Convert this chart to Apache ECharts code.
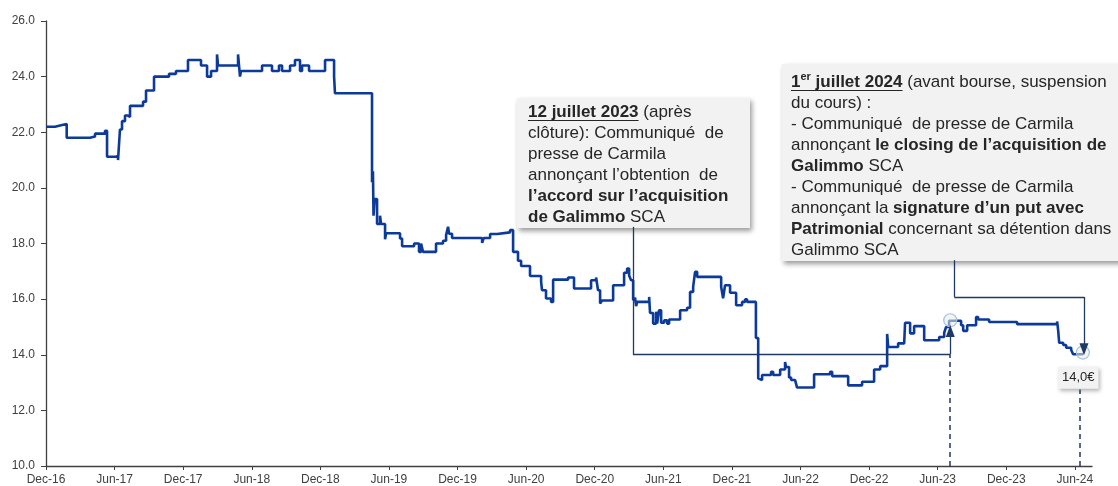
<!DOCTYPE html>
<html>
<head>
<meta charset="utf-8">
<script src="https://cdn.jsdelivr.net/npm/echarts@6.0.0/dist/echarts.min.js"></script>
<style>
  html, body { margin: 0; padding: 0; background: #fff; }
  #chart { width: 1118px; height: 486px; }
</style>
</head>
<body>
<div id="chart"></div>
<script>
// x = months since Dec-16, y = share price (EUR); each point = date of a step change
const months = [
  0, 0.79, 1.31, 1.81, 3.85, 4.29, 5.16, 5.34, 6.1, 6.3, 6.47, 6.65, 6.91, 7.17, 7.35,
  8.49, 8.75, 9.45, 10.76, 11.37, 12.42, 13.56, 14.09, 14.44, 14.96, 15.05, 16.8, 16.97,
  17.06, 18.9, 19.77, 20.38, 20.65, 21.35, 21.78, 22.22, 22.4, 23.01, 24.41, 25.2, 25.28,
  28.52, 28.6, 28.65, 28.75, 28.96, 29.22, 29.31, 29.66, 29.75, 30.97, 31.15, 32.2, 32.63,
  32.81, 32.98, 34.12, 34.73, 35.0, 35.17, 35.26, 35.52, 38.15, 38.3, 38.85, 39.46, 40.59,
  40.86, 41.29, 41.56, 42.34, 43.31, 43.39, 43.74, 44.18, 44.36, 45.67, 46.19, 47.68, 48.12,
  48.29, 48.47, 48.64, 49.61, 50.57, 50.83, 51.01, 51.18, 51.36, 51.53, 51.62, 51.71, 52.76,
  52.84, 53.11, 53.37, 53.46, 53.63, 53.81, 54.07, 54.33, 54.51, 55.47, 56.08, 56.34, 56.61,
  56.78, 56.96, 59.06, 59.23, 59.4, 59.84, 60.37, 60.89, 61.15, 61.33, 62.1, 62.3, 62.47,
  62.64, 63.43, 63.61, 64.22, 64.65, 64.74, 65.0, 65.18, 65.53, 65.7, 67.19, 68.59, 68.77,
  70.17, 71.39, 72.44, 72.97, 73.58, 73.67, 74.54, 75.07, 75.15, 75.59, 75.94, 76.82, 78.13,
  78.57, 78.74, 79.0, 80.05, 80.23, 80.58, 81.36, 81.54, 82.5, 84.95, 85.74, 85.83, 88.45,
  88.54, 88.63, 88.98, 89.24, 89.68, 89.85, 90.73
];
const prices = [
  22.2, 22.25, 22.3, 21.8, 21.85, 21.95, 22.05, 21.12, 21.15, 21.0, 22.1, 22.4, 22.6, 22.55, 22.95,
  23.1, 23.5, 24.0, 24.1, 24.2, 24.6, 24.4, 24.0, 24.2, 24.8, 24.4, 24.8, 24.0,
  24.2, 24.4, 24.2, 24.4, 24.2, 24.4, 24.6, 24.2, 24.4, 24.2, 24.6, 24.0, 23.4,
  20.2, 20.6, 19.0, 19.6, 18.7, 19.0, 18.7, 18.15, 18.37, 18.18, 17.9, 18.0, 17.7,
  18.0, 17.7, 18.0, 18.1, 18.3, 18.6, 18.35, 18.2, 18.02, 18.2, 18.34, 18.4, 18.48,
  17.7, 17.38, 17.19, 16.83, 16.62, 16.32, 16.02, 15.9, 16.7, 16.78, 16.38, 16.68, 16.78,
  16.32, 15.84, 15.95, 16.5, 16.95, 17.1, 16.85, 16.68, 15.96, 16.05, 15.75, 15.9, 16.08,
  15.5, 15.12, 15.55, 15.12, 15.6, 15.15, 15.24, 15.12, 15.27, 15.6, 15.69, 16.26, 16.44,
  16.98, 16.8, 16.44, 16.03, 16.5, 16.23, 15.78, 15.9, 15.99, 15.9, 14.6, 13.15, 13.09,
  13.27, 13.39, 13.27, 13.47, 13.74, 13.56, 13.18, 13.09, 13.03, 12.82, 13.3, 13.39, 13.23,
  12.9, 13.03, 13.47, 13.59, 14.75, 14.28, 14.41, 14.46, 15.15, 14.77, 15.03, 14.52, 14.64,
  14.79, 15.0, 15.22, 15.06, 14.86, 15.06, 15.36, 15.27, 15.18, 15.1, 15.15, 15.1, 15.2,
  14.88, 14.43, 14.35, 14.25, 14.17, 14.02, 14.0
];
const tickMonths = [0, 6, 12, 18, 24, 30, 36, 42, 48, 54, 60, 66, 72, 78, 84, 90];
const tickLabels = ['Dec-16', 'Jun-17', 'Dec-17', 'Jun-18', 'Dec-18', 'Jun-19', 'Dec-19', 'Jun-20',
  'Dec-20', 'Jun-21', 'Dec-21', 'Jun-22', 'Dec-22', 'Jun-23', 'Dec-23', 'Jun-24'];

// annotation anchors (months / price)
const accordMonth = 79.1;     // 12 juillet 2023
const closingMonth = 90.8;    // 1er juillet 2024
const closingDash = 90.4;

const lastMonth = months[months.length - 1];
const lastPrice = prices[prices.length - 1];

const navy = '#1f3864';
const fam = '"Liberation Sans", Arial, sans-serif';
const textCol = '#262626';

const ctx = document.createElement('canvas').getContext('2d');
function tw(str, font) { ctx.font = font; return ctx.measureText(str).width; }

const rich = {
  b: { fontSize: 17, fontFamily: fam, fontWeight: 'bold', fill: textCol, lineHeight: 21 },
  u: { fontSize: 17, fontFamily: fam, fontWeight: 'bold', fill: textCol, lineHeight: 21 },
  sup: { fontSize: 11, fontFamily: fam, fontWeight: 'bold', fill: textCol, lineHeight: 13, verticalAlign: 'top' }
};

const box1Text = '{u|12 juillet 2023} (après\nclôture): Communiqué  de\npresse de Carmila\nannonçant l\u2019obtention  de\n{b|l\u2019accord sur l\u2019acquisition}\n{b|de Galimmo} SCA';
const box2Text = '{u|1}{sup|er}{u| juillet 2024} (avant bourse, suspension\ndu cours) :\n- Communiqué  de presse de Carmila\nannonçant {b|le closing de l\u2019acquisition de}\n{b|Galimmo} SCA\n- Communiqué  de presse de Carmila\nannonçant la {b|signature d\u2019un put avec}\n{b|Patrimonial} concernant sa détention dans\nGalimmo SCA';

const u1 = tw('12 juillet 2023', 'bold 17px ' + fam);
const u2 = tw('1', 'bold 17px ' + fam) + tw('er', 'bold 11px ' + fam) + tw(' juillet 2024', 'bold 17px ' + fam);

const boxShadow = { shadowBlur: 5, shadowOffsetX: 2, shadowOffsetY: 3, shadowColor: 'rgba(0,0,0,0.4)' };

function box(x, y, w, h, tx, ty, text, ul) {
  return {
    type: 'group', z: 100, silent: true,
    children: [
      { type: 'rect', shape: { x: x, y: y, width: w, height: h },
        style: Object.assign({ fill: '#f2f2f2' }, boxShadow) },
      { type: 'text', style: { x: tx, y: ty, text: text, fontSize: 17, fontFamily: fam, fill: textCol,
          lineHeight: 21, verticalAlign: 'top', align: 'left', rich: rich } },
      { type: 'line', shape: { x1: tx, y1: ty + 19, x2: tx + ul, y2: ty + 19 },
        style: { stroke: textCol, lineWidth: 1.2 } }
    ]
  };
}

const arrowHead = { symbol: 'triangle', symbolSize: [9, 12] };

const chart = echarts.init(document.getElementById('chart'));
chart.setOption({
  animation: false,
  backgroundColor: '#fff',
  grid: { left: 46, right: 26, top: 21, bottom: 20, outerBoundsMode: 'none' },
  xAxis: {
    type: 'value', min: 0, max: 91.5, interval: 6,
    splitLine: { show: false },
    axisLine: { lineStyle: { color: '#404040', width: 1.3 } },
    axisTick: { length: 4, lineStyle: { color: '#404040' }, customValues: tickMonths },
    axisLabel: {
      customValues: tickMonths, margin: 8, color: '#404040', fontSize: 12, fontFamily: fam,
      formatter: v => tickLabels[tickMonths.indexOf(Math.round(v))] || ''
    }
  },
  yAxis: {
    type: 'value', min: 10, max: 26, interval: 2,
    splitLine: { show: false },
    axisLine: { show: true, lineStyle: { color: '#404040', width: 1.3 } },
    axisTick: { show: true, length: 5, lineStyle: { color: '#404040' } },
    axisLabel: { margin: 11, color: '#404040', fontSize: 12, fontFamily: fam, formatter: v => v.toFixed(1) }
  },
  series: [{
    type: 'line',
    step: 'end',
    showSymbol: false,
    data: months.map((m, i) => [m, prices[i]]),
    lineStyle: { color: '#0b3a9a', width: 2.6 },
    markLine: {
      silent: true,
      z: 8,
      symbol: 'none',
      label: { show: false },
      emphasis: { disabled: true },
      lineStyle: { color: navy, width: 1.3, type: 'solid' },
      data: [
        [{ coord: [51.34, 18.6] }, { coord: [51.34, 14.02] }],
        [{ coord: [51.34, 14.02] }, { coord: [accordMonth, 14.02] }],
        [{ coord: [accordMonth, 14.02] }, Object.assign({ coord: [accordMonth, 14.85] }, arrowHead)],
        [{ coord: [accordMonth, 10], lineStyle: { type: [5, 4], width: 1.5 } }, { coord: [accordMonth, 14.02] }],
        [{ coord: [79.45, 17.4] }, { coord: [79.45, 16.08] }],
        [{ coord: [79.45, 16.08] }, { coord: [closingMonth, 16.08] }],
        [{ coord: [closingMonth, 16.08] }, Object.assign({ coord: [closingMonth, 14.2] }, arrowHead)],
        [{ coord: [closingDash, 10], lineStyle: { type: [5, 4], width: 1.5 } }, { coord: [closingDash, 12.75] }]
      ]
    },
    markPoint: {
      silent: true,
      z: 4,
      data: [
        { coord: [accordMonth, 15.24], symbol: 'circle', symbolSize: 13, label: { show: false },
          itemStyle: { color: 'rgba(235,235,230,0.55)', borderColor: '#9fc0e8', borderWidth: 1.2 } },
        { coord: [90.7, 14.08], symbol: 'circle', symbolSize: 13, label: { show: false },
          itemStyle: { color: 'rgba(235,235,230,0.55)', borderColor: '#9fc0e8', borderWidth: 1.2 } },
        { coord: [lastMonth, lastPrice], symbol: 'rect', symbolSize: 0,
          label: {
            show: true, position: 'inside', offset: [-5, 23],
            formatter: lastPrice.toFixed(1).replace('.', ',') + '\u20ac',
            fontSize: 13, fontFamily: fam, color: textCol,
            backgroundColor: '#f2f2f2', padding: [5, 4, 4, 4],
            shadowBlur: 4, shadowOffsetX: 2, shadowOffsetY: 2, shadowColor: 'rgba(0,0,0,0.3)'
          } }
      ]
    }
  }],
  graphic: [
    box(517, 98, 233, 130, 528, 101.5, box1Text, u1),
    box(782, 64, 345, 197, 791, 71.5, box2Text, u2)
  ]
});
</script>
</body>
</html>
